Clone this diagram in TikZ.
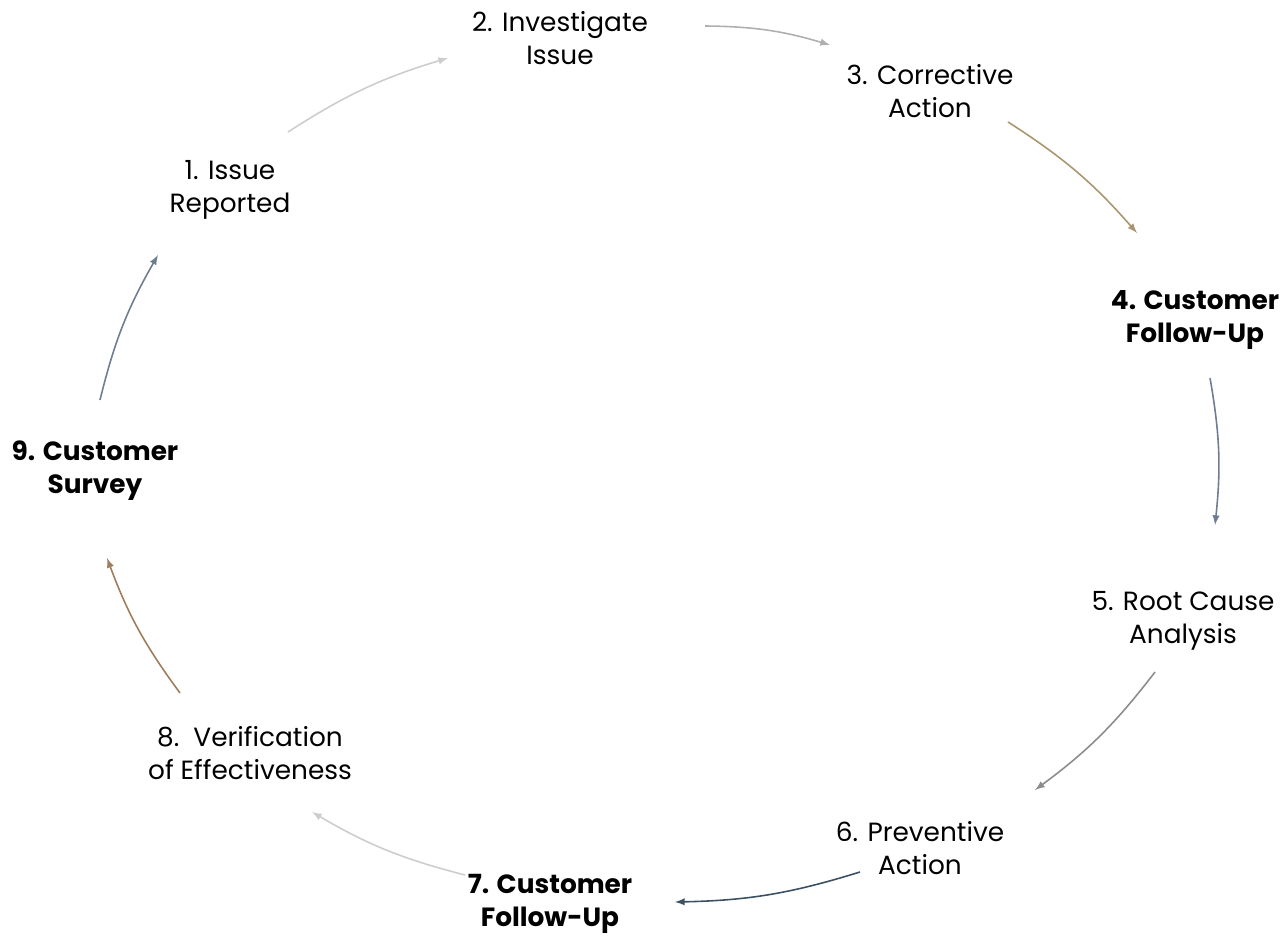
\documentclass[tikz,border=0pt]{standalone}
\usepackage{fontspec}
\setmainfont{Poppins}
\definecolor{paleline}{RGB}{205,205,205}
\definecolor{midline}{RGB}{175,175,175}
\definecolor{tanline}{RGB}{170,150,110}
\definecolor{brownline}{RGB}{160,125,90}
\definecolor{slateline}{RGB}{110,125,145}
\definecolor{darkslate}{RGB}{60,80,100}
\tikzset{
  stage/.style={align=center, font=\fontsize{15}{18.8}\selectfont, inner sep=1pt},
  keystage/.style={stage, font=\fontsize{15}{18.8}\selectfont\bfseries},
  flow/.style={->, >=latex, line width=0.9pt, bend left=8},
}
\begin{document}
\begin{tikzpicture}
    \useasboundingbox (0, 0) rectangle (25.76, 18.76);

    % stages
    \node[stage]    (n1) at (4.60, 14.96) {1. Issue\\Reported};
    \node[stage]    (n2) at (11.20, 18.00) {2. Investigate\\Issue};
    \node[stage]    (n3) at (18.60, 16.94) {3. Corrective\\Action};
    \node[keystage] (n4) at (23.90, 12.36) {4. Customer\\Follow-Up};
    \node[stage]    (n5) at (23.66, 6.34) {5. Root Cause\\Analysis};
    \node[stage]    (n6) at (18.40, 1.80) {6. Preventive\\Action};
    \node[keystage] (n7) at (11.00, 0.68) {7. Customer\\Follow-Up};
    \node[stage]    (n8) at (5.00, 3.70) {8.\ \ Verification\\of Effectiveness};
    \node[keystage] (n9) at (1.90, 9.34) {9. Customer\\Survey};

    % arrow ends
    \coordinate (a1) at (5.76, 16.12);  \coordinate (b1) at (8.96, 17.60);
    \coordinate (a2) at (14.10, 18.24); \coordinate (b2) at (16.60, 17.86);
    \coordinate (a3) at (20.16, 16.32); \coordinate (b3) at (22.74, 14.10);
    \coordinate (a4) at (24.20, 11.20); \coordinate (b4) at (24.30, 8.26);
    \coordinate (a5) at (23.10, 5.32);  \coordinate (b5) at (20.70, 2.96);
    \coordinate (a6) at (17.20, 1.32);  \coordinate (b6) at (13.50, 0.72);
    \coordinate (a7) at (9.30, 1.26);   \coordinate (b7) at (6.24, 2.52);
    \coordinate (a8) at (3.60, 4.90);   \coordinate (b8) at (2.14, 7.60);
    \coordinate (a9) at (2.00, 10.76);  \coordinate (b9) at (3.16, 13.66);

    % cycle
    \draw[flow, paleline]  (a1) to (b1);
    \draw[flow, midline]   (a2) to (b2);
    \draw[flow, tanline]   (a3) to (b3);
    \draw[flow, slateline] (a4) to (b4);
    \draw[flow, midline!80!black] (a5) to (b5);
    \draw[flow, darkslate] (a6) to (b6);
    \draw[flow, paleline]  (a7) to (b7);
    \draw[flow, brownline] (a8) to (b8);
    \draw[flow, slateline] (a9) to (b9);
\end{tikzpicture}
\end{document}
